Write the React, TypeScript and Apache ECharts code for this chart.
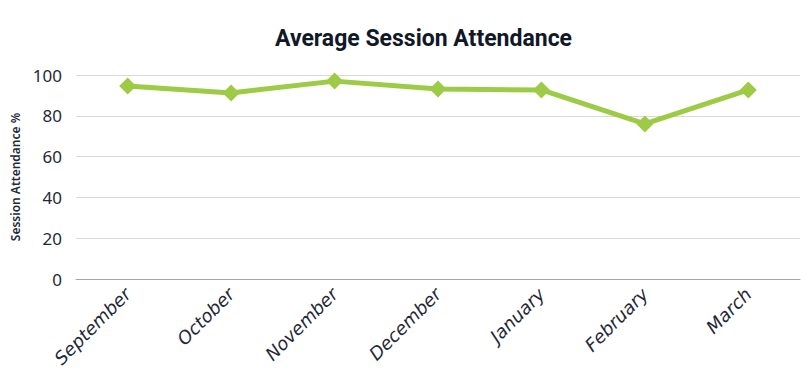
import React, { useEffect, useRef } from "react";
import * as echarts from "echarts";

const categories = ["September", "October", "November", "December", "January", "February", "March"];
const attendance = [94.6, 91.2, 97, 93.1, 92.7, 76, 92.7];
const yTicks = [0, 20, 40, 60, 80, 100];

export default function App() {
  const ref = useRef<HTMLDivElement>(null);
  useEffect(() => {
    const chart = echarts.init(ref.current!, null, { renderer: "svg" });
    chart.setOption({
      animation: false,
      backgroundColor: "#ffffff",
      title: {
        text: "Average Session Attendance",
        left: 270,
        top: 22,
        textStyle: { fontFamily: "Roboto", fontWeight: "bold", fontSize: 23, color: "#111827" },
      },
      grid: { left: 76, right: 10, top: 75, bottom: 102 },
      xAxis: {
        type: "category",
        data: categories,
        boundaryGap: true,
        axisTick: { show: false },
        axisLine: { lineStyle: { color: "#a6a6a6", width: 1 } },
        axisLabel: {
          rotate: 45,
          fontFamily: "DejaVu Sans",
          fontStyle: "italic",
          fontSize: 18,
          color: "#1f2937",
          margin: 12,
          interval: 0,
        },
      },
      yAxis: {
        type: "value",
        min: 0,
        max: 100,
        interval: 20,
        name: "Session Attendance %",
        nameLocation: "middle",
        nameGap: 52,
        nameTextStyle: { fontFamily: "Noto Sans", fontSize: 12, fontWeight: 600, color: "#1f2937" },
        axisLine: { show: false },
        axisTick: { show: false },
        axisLabel: {
          fontFamily: "Noto Sans",
          fontSize: 17,
          color: "#1f2937",
          margin: 14,
          formatter: (v: number) => (yTicks.includes(v) ? String(v) : ""),
        },
        splitLine: { lineStyle: { color: "#d9d9d9", width: 1 } },
      },
      series: [
        {
          type: "line",
          data: attendance,
          symbol: "diamond",
          symbolSize: 17,
          lineStyle: { color: "#9dcb45", width: 5 },
          itemStyle: { color: "#9dcb45" },
        },
      ],
    });
    return () => chart.dispose();
  }, []);
  return <div ref={ref} style={{ position: "fixed", left: 0, top: 0, width: 810, height: 381 }} />;
}
